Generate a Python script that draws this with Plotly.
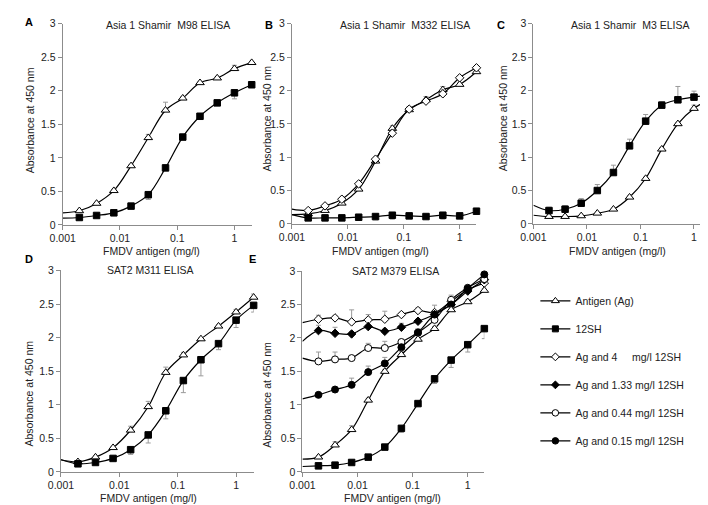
import plotly.graph_objects as go

# ---------------- data ----------------
conc = [0.001953, 0.003906, 0.007813, 0.015625, 0.03125, 0.0625, 0.125, 0.25, 0.5, 1, 2]
x_start = 0.001  # where the smoothed lines begin (left edge)

# Panel A: Asia 1 Shamir M98
a_ag = [0.21, 0.32, 0.51, 0.88, 1.30, 1.71, 1.89, 2.12, 2.19, 2.33, 2.42]
a_ag_err = [0.01, 0.01, 0.02, 0.02, 0.05, 0.12, 0.02, 0.02, 0.02, 0.05, 0.02]
a_ag_start = 0.18
a_sh = [0.11, 0.14, 0.18, 0.28, 0.45, 0.85, 1.31, 1.62, 1.82, 1.97, 2.09]
a_sh_err = [0.01, 0.01, 0.01, 0.02, 0.07, 0.03, 0.02, 0.02, 0.02, 0.09, 0.04]
a_sh_start = 0.10

# Panel B: Asia 1 Shamir M332
b_ag = [0.15, 0.20, 0.31, 0.52, 0.94, 1.43, 1.71, 1.86, 2.01, 2.09, 2.28]
b_ag_err = [0.01, 0.01, 0.02, 0.03, 0.04, 0.04, 0.05, 0.05, 0.05, 0.02, 0.02]
b_ag_start = 0.14
b_ag4 = [0.20, 0.27, 0.37, 0.60, 0.97, 1.36, 1.72, 1.84, 1.95, 2.19, 2.34]
b_ag4_err = [0.01, 0.01, 0.02, 0.02, 0.03, 0.05, 0.03, 0.04, 0.06, 0.02, 0.02]
b_ag4_start = 0.22
b_sh = [0.09, 0.09, 0.09, 0.10, 0.11, 0.13, 0.12, 0.11, 0.13, 0.12, 0.19]
b_sh_err = [0.01, 0.01, 0.01, 0.03, 0.05, 0.06, 0.04, 0.03, 0.06, 0.02, 0.02]
b_sh_start = 0.14

# Panel C: Asia 1 Shamir M3
c_sh = [0.20, 0.22, 0.31, 0.50, 0.77, 1.17, 1.54, 1.78, 1.86, 1.90, 1.94]
c_sh_err = [0.05, 0.05, 0.07, 0.09, 0.11, 0.10, 0.10, 0.05, 0.20, 0.09, 0.08]
c_sh_start = 0.28
c_ag = [0.11, 0.11, 0.12, 0.16, 0.22, 0.40, 0.68, 1.12, 1.50, 1.73, 1.87]
c_ag_err = [0.01, 0.01, 0.01, 0.01, 0.01, 0.02, 0.02, 0.02, 0.02, 0.05, 0.02]
c_ag_start = 0.13

# Panel D: SAT2 M311
d_ag = [0.15, 0.22, 0.36, 0.62, 0.97, 1.48, 1.74, 1.98, 2.17, 2.38, 2.60]
d_ag_err = [0.01, 0.02, 0.02, 0.06, 0.08, 0.08, 0.04, 0.02, 0.02, 0.04, 0.05]
d_ag_start = 0.18
d_sh = [0.12, 0.14, 0.20, 0.33, 0.55, 0.91, 1.36, 1.67, 1.91, 2.26, 2.48]
d_sh_err = [0.01, 0.01, 0.02, 0.07, 0.12, 0.12, 0.18, 0.24, 0.09, 0.11, 0.10]
d_sh_start = 0.18

# Panel E: SAT2 M379
e_ag4 = [2.28, 2.30, 2.24, 2.27, 2.28, 2.35, 2.41, 2.38, 2.55, 2.72, 2.82]
e_ag4_err = [0.06, 0.03, 0.18, 0.08, 0.12, 0.03, 0.04, 0.11, 0.09, 0.04, 0.03]
e_ag4_start = 2.23
e_ag133 = [2.11, 2.07, 2.06, 2.17, 2.10, 2.16, 2.25, 2.35, 2.50, 2.70, 2.87]
e_ag133_err = [0.08, 0.09, 0.03, 0.06, 0.03, 0.06, 0.03, 0.03, 0.05, 0.03, 0.03]
e_ag133_start = 1.95
e_ag044 = [1.65, 1.68, 1.70, 1.85, 1.85, 1.94, 2.08, 2.27, 2.57, 2.75, 2.88]
e_ag044_err = [0.14, 0.11, 0.02, 0.07, 0.10, 0.03, 0.06, 0.04, 0.03, 0.03, 0.03]
e_ag044_start = 1.70
e_ag015 = [1.15, 1.23, 1.30, 1.49, 1.62, 1.86, 2.08, 2.35, 2.50, 2.74, 2.95]
e_ag015_err = [0.02, 0.03, 0.10, 0.09, 0.09, 0.05, 0.03, 0.03, 0.03, 0.03, 0.03]
e_ag015_start = 1.09
e_ag = [0.22, 0.40, 0.63, 1.07, 1.50, 1.75, 1.98, 2.14, 2.42, 2.54, 2.71]
e_ag_err = [0.02, 0.05, 0.06, 0.03, 0.03, 0.05, 0.03, 0.03, 0.03, 0.03, 0.03]
e_ag_start = 0.19
e_sh = [0.09, 0.10, 0.14, 0.22, 0.37, 0.65, 1.02, 1.39, 1.67, 1.90, 2.14]
e_sh_err = [0.01, 0.01, 0.01, 0.02, 0.02, 0.06, 0.03, 0.07, 0.11, 0.11, 0.15]
e_sh_start = 0.08

titles = ["Asia 1 Shamir\u00a0 M98 ELISA", "Asia 1 Shamir\u00a0 M332 ELISA",
          "Asia 1 Shamir\u00a0 M3 ELISA", "SAT2 M311 ELISA", "SAT2 M379 ELISA"]
panel_letters = ["A", "B", "C", "D", "E"]
x_tickvals = [0.001, 0.01, 0.1, 1]
x_ticktext = ["0.001", "0.01", "0.1", "1"]
y_tickvals = [0, 0.5, 1, 1.5, 2, 2.5, 3]
y_ticktext = ["0", "0.5", "1", "1.5", "2", "2.5", "3"]
x_title = "FMDV antigen (mg/l)"
y_title = "Absorbance at 450 nm"

legend_names = {
    "ag": "Antigen (Ag)",
    "sh": "12SH",
    "ag4": "Ag and 4\u00a0\u00a0\u00a0\u00a0 mg/l 12SH",
    "ag133": "Ag and 1.33 mg/l 12SH",
    "ag044": "Ag and 0.44 mg/l 12SH",
    "ag015": "Ag and 0.15 mg/l 12SH",
}

# (panel index, kind, values, errors, start, error direction)
series = [
    (1, "ag", a_ag, a_ag_err, a_ag_start, "up"),
    (1, "sh", a_sh, a_sh_err, a_sh_start, "down"),
    (2, "ag", b_ag, b_ag_err, b_ag_start, "up"),
    (2, "ag4", b_ag4, b_ag4_err, b_ag4_start, "up"),
    (2, "sh", b_sh, b_sh_err, b_sh_start, "down"),
    (3, "ag", c_ag, c_ag_err, c_ag_start, "up"),
    (3, "sh", c_sh, c_sh_err, c_sh_start, "up"),
    (4, "ag", d_ag, d_ag_err, d_ag_start, "up"),
    (4, "sh", d_sh, d_sh_err, d_sh_start, "down"),
    (5, "ag4", e_ag4, e_ag4_err, e_ag4_start, "up"),
    (5, "ag133", e_ag133, e_ag133_err, e_ag133_start, "up"),
    (5, "ag044", e_ag044, e_ag044_err, e_ag044_start, "up"),
    (5, "ag015", e_ag015, e_ag015_err, e_ag015_start, "up"),
    (5, "ag", e_ag, e_ag_err, e_ag_start, "up"),
    (5, "sh", e_sh, e_sh_err, e_sh_start, "down"),
]

# ---------------- styles ----------------
W, H = 708, 505
FONT = "Liberation Sans, Arial, sans-serif"
FS = 10.5
TXT = "#222222"
AXC = "#8c8c8c"
ERRC = "#9a9a9a"

marker_style = {
    "ag": dict(symbol="triangle-up", color="white", size=7.5),
    "sh": dict(symbol="square", color="black", size=6.5),
    "ag4": dict(symbol="diamond", color="white", size=6.5),
    "ag133": dict(symbol="diamond", color="black", size=6.5),
    "ag044": dict(symbol="circle", color="white", size=7),
    "ag015": dict(symbol="circle", color="black", size=7),
}

# plot areas in pixels: (left, right, top, bottom)
panel_px = [
    (42.5, 235.0, 10.0, 216.0),
    (276.0, 464.0, 10.0, 215.0),
    (522.0, 702.0, 10.0, 215.0),
    (40.7, 237.0, 262.7, 469.0),
    (286.7, 472.0, 263.3, 469.0),
]
title_px = [(149.5, 11), (391, 11), (620, 11), (132, 262.7), (381.7, 263.3)]
letter_px = [(8, 8), (253, 11), (489, 11), (8, 251), (236, 251)]
ytitle_px = [(10, 109), (250.7, 107), (491.7, 107), (8, 389), (250.7, 390)]
xtitle_px = [(133, 243), (366, 243), (608, 243), (130, 496), (378, 496)]


def px2x(v):
    return v / W


def px2y(v):
    return 1 - v / H


fig = go.Figure()

for (p, kind, vals, errs, start, direction) in series:
    xa = "x" if p == 1 else f"x{p}"
    ya = "y" if p == 1 else f"y{p}"
    fig.add_trace(go.Scatter(
        x=[x_start] + conc, y=[start] + vals, xaxis=xa, yaxis=ya,
        mode="lines", line=dict(color="black", width=1.2, shape="spline", smoothing=1.0),
        showlegend=False, hoverinfo="skip", cliponaxis=False))
    zeros = [0] * len(errs)
    ms = marker_style[kind]
    fig.add_trace(go.Scatter(
        x=conc, y=vals, xaxis=xa, yaxis=ya, mode="markers",
        marker=dict(symbol=ms["symbol"], color=ms["color"], size=ms["size"],
                    line=dict(color="black", width=1)),
        error_y=dict(type="data", symmetric=False,
                     array=errs if direction == "up" else zeros,
                     arrayminus=zeros if direction == "up" else errs,
                     color=ERRC, thickness=1, width=2.5),
        showlegend=False, cliponaxis=False))

# legend entries
for kind in ["ag", "sh", "ag4", "ag133", "ag044", "ag015"]:
    ms = marker_style[kind]
    fig.add_trace(go.Scatter(
        x=[None], y=[None], xaxis="x5", yaxis="y5", mode="lines+markers",
        name=legend_names[kind], legendgroup=kind,
        line=dict(color="black", width=1.2),
        marker=dict(symbol=ms["symbol"], color=ms["color"], size=ms["size"] - 0.5,
                    line=dict(color="black", width=1))))

annotations = []
layout_axes = {}
for i, (l, r, t, b) in enumerate(panel_px):
    n = "" if i == 0 else str(i + 1)
    layout_axes[f"xaxis{n}"] = dict(
        type="log", range=[-3, 0.30103], domain=[px2x(l), px2x(r)],
        anchor=f"y{n}", tickvals=x_tickvals, ticktext=x_ticktext,
        showline=True, linecolor=AXC, linewidth=1, ticks="outside", ticklen=4,
        tickcolor=AXC, showgrid=False, zeroline=False,
        tickfont=dict(family=FONT, size=FS, color=TXT))
    layout_axes[f"yaxis{n}"] = dict(
        range=[0, 3], domain=[px2y(b), px2y(t)], anchor=f"x{n}",
        tickvals=y_tickvals, ticktext=y_ticktext,
        showline=True, linecolor=AXC, linewidth=1, ticks="outside", ticklen=4,
        tickcolor=AXC, showgrid=False, zeroline=False,
        tickfont=dict(family=FONT, size=FS, color=TXT))
    tx, ty = title_px[i]
    annotations.append(dict(text=titles[i], x=px2x(tx), y=px2y(ty), xref="paper", yref="paper",
                            showarrow=False, xanchor="center", yanchor="middle",
                            font=dict(family=FONT, size=FS, color=TXT)))
    lx, ly = letter_px[i]
    annotations.append(dict(text=f"<b>{panel_letters[i]}</b>", x=px2x(lx), y=px2y(ly),
                            xref="paper", yref="paper", showarrow=False,
                            xanchor="center", yanchor="middle",
                            font=dict(family=FONT, size=11, color="black")))
    yx, yy = ytitle_px[i]
    annotations.append(dict(text=y_title, x=px2x(yx), y=px2y(yy), xref="paper", yref="paper",
                            showarrow=False, textangle=-90, xanchor="center", yanchor="middle",
                            font=dict(family=FONT, size=FS, color=TXT)))
    xx, xy = xtitle_px[i]
    annotations.append(dict(text=x_title, x=px2x(xx), y=px2y(xy), xref="paper", yref="paper",
                            showarrow=False, xanchor="center", yanchor="middle",
                            font=dict(family=FONT, size=FS, color=TXT)))

fig.update_layout(
    width=W, height=H, margin=dict(l=0, r=0, t=0, b=0),
    paper_bgcolor="white", plot_bgcolor="white",
    annotations=annotations,
    legend=dict(x=px2x(524), y=px2y(279), xanchor="left", yanchor="top",
                tracegroupgap=9, bgcolor="rgba(0,0,0,0)",
                font=dict(family=FONT, size=FS, color=TXT)),
    **layout_axes)

fig.write_html("out.html")
